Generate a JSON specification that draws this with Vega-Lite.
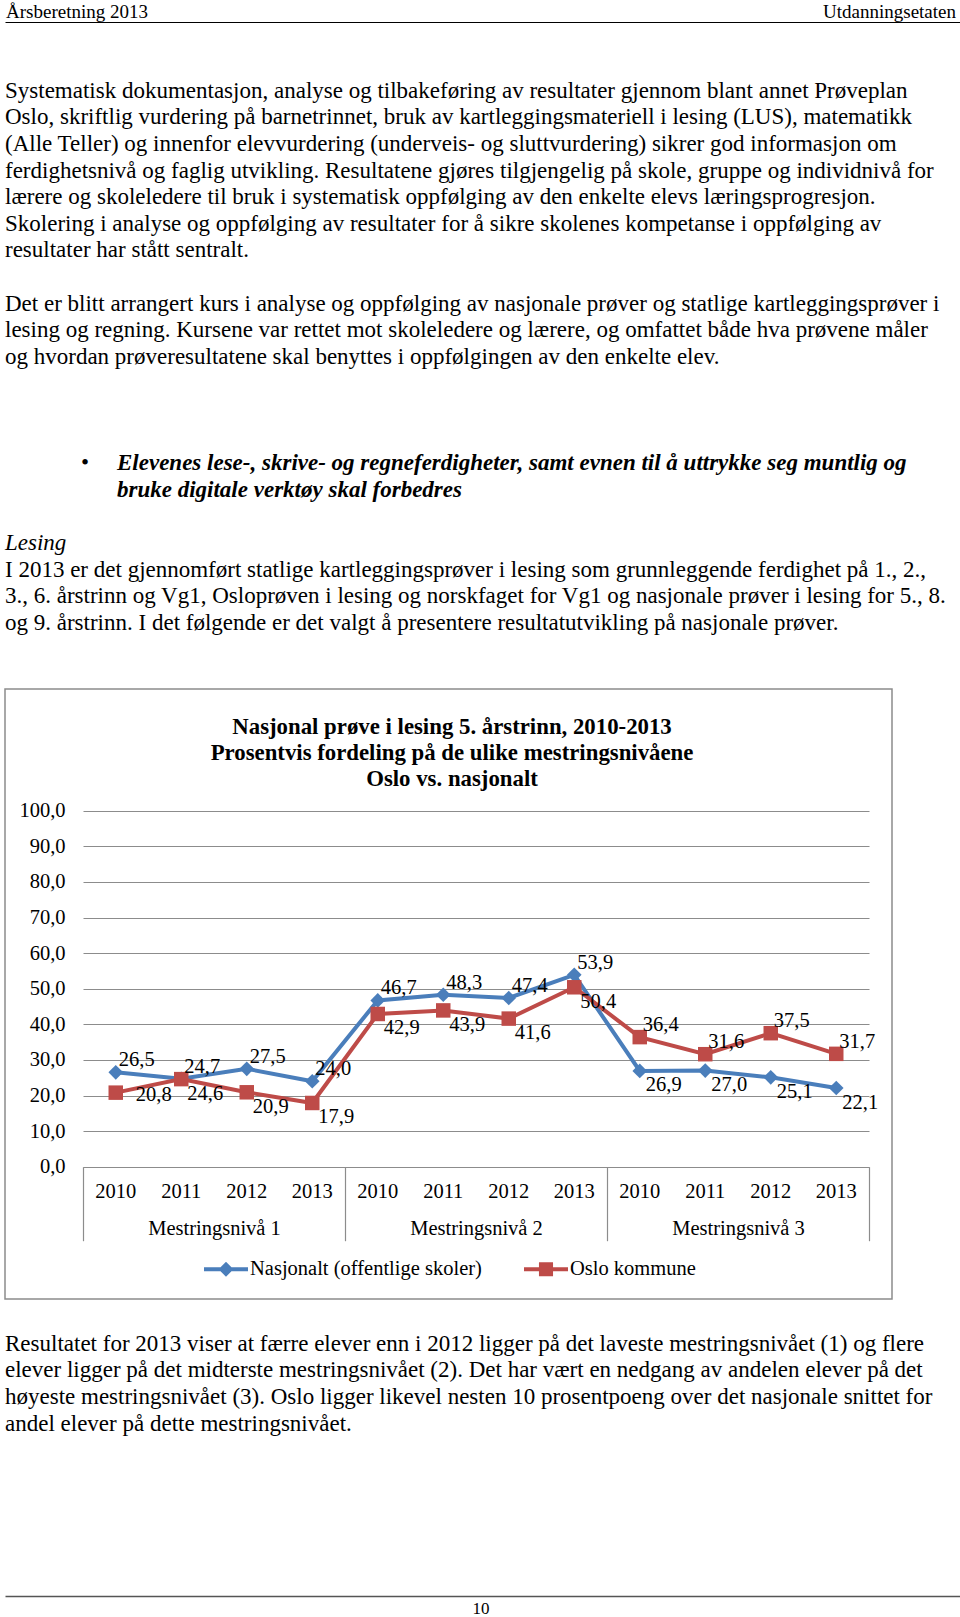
{
  "$schema": "https://vega.github.io/schema/vega-lite/v6.json",
  "padding": {"left": 4, "top": 0, "right": 0, "bottom": 0},
  "spacing": 0,
  "bounds": "flush",
  "background": "white",
  "config": {
    "view": {"stroke": null},
    "font": "Liberation Serif",
    "text": {"font": "Liberation Serif", "color": "#000"},
    "axis": {"labelFont": "Liberation Serif", "labelColor": "#000", "title": null},
    "locale": {"number": {"decimal": ",", "thousands": " ", "grouping": [3], "currency": ["", " kr"]}}
  },
  "vconcat": [
    {
      "width": 956,
      "height": 22,
      "data": {"values": [
        {"side": "venstre", "tekst": "Årsberetning 2013"},
        {"side": "høyre", "tekst": "Utdanningsetaten"}
      ]},
      "encoding": {
        "x": {"field": "side", "type": "nominal", "sort": null,
          "scale": {"type": "point", "domain": ["venstre", "høyre"], "padding": 0.00105},
          "axis": {"orient": "bottom", "labels": false, "ticks": false, "domain": true, "domainColor": "#000", "domainWidth": 1.2, "grid": false, "title": null}},
        "text": {"field": "tekst"}
      },
      "layer": [
        {"transform": [{"filter": "datum.side == 'venstre'"}],
         "mark": {"type": "text", "align": "left", "baseline": "middle", "fontSize": 19, "dy": 1}},
        {"transform": [{"filter": "datum.side == 'høyre'"}],
         "mark": {"type": "text", "align": "right", "baseline": "middle", "fontSize": 19, "dy": 1, "dx": -4}}
      ]
    },
    {
      "width": 956,
      "height": 667,
      "data": {"values": [
        {"linje": 0, "innrykk": "venstre", "stil": "normal", "tekst": "Systematisk dokumentasjon, analyse og tilbakeføring av resultater gjennom blant annet Prøveplan"},
        {"linje": 1, "innrykk": "venstre", "stil": "normal", "tekst": "Oslo, skriftlig vurdering på barnetrinnet, bruk av kartleggingsmateriell i lesing (LUS), matematikk"},
        {"linje": 2, "innrykk": "venstre", "stil": "normal", "tekst": "(Alle Teller) og innenfor elevvurdering (underveis- og sluttvurdering) sikrer god informasjon om"},
        {"linje": 3, "innrykk": "venstre", "stil": "normal", "tekst": "ferdighetsnivå og faglig utvikling. Resultatene gjøres tilgjengelig på skole, gruppe og individnivå for"},
        {"linje": 4, "innrykk": "venstre", "stil": "normal", "tekst": "lærere og skoleledere til bruk i systematisk oppfølging av den enkelte elevs læringsprogresjon."},
        {"linje": 5, "innrykk": "venstre", "stil": "normal", "tekst": "Skolering i analyse og oppfølging av resultater for å sikre skolenes kompetanse i oppfølging av"},
        {"linje": 6, "innrykk": "venstre", "stil": "normal", "tekst": "resultater har stått sentralt."},
        {"linje": 8, "innrykk": "venstre", "stil": "normal", "tekst": "Det er blitt arrangert kurs i analyse og oppfølging av nasjonale prøver og statlige kartleggingsprøver i"},
        {"linje": 9, "innrykk": "venstre", "stil": "normal", "tekst": "lesing og regning.  Kursene var rettet mot skoleledere og lærere, og omfattet både hva prøvene måler"},
        {"linje": 10, "innrykk": "venstre", "stil": "normal", "tekst": "og hvordan prøveresultatene skal benyttes i oppfølgingen av den enkelte elev."},
        {"linje": 14, "innrykk": "punkt", "stil": "kule", "tekst": "•"},
        {"linje": 14, "innrykk": "punkt", "stil": "fet kursiv", "tekst": "Elevenes lese-, skrive- og regneferdigheter, samt evnen til å uttrykke seg muntlig og"},
        {"linje": 15, "innrykk": "punkt", "stil": "fet kursiv", "tekst": "bruke digitale verktøy skal forbedres"},
        {"linje": 17, "innrykk": "venstre", "stil": "kursiv", "tekst": "Lesing"},
        {"linje": 18, "innrykk": "venstre", "stil": "normal", "tekst": "I 2013 er det gjennomført statlige kartleggingsprøver i lesing som grunnleggende ferdighet på 1., 2.,"},
        {"linje": 19, "innrykk": "venstre", "stil": "normal", "tekst": "3., 6. årstrinn og Vg1, Osloprøven i lesing og norskfaget for Vg1 og nasjonale prøver i lesing for 5., 8."},
        {"linje": 20, "innrykk": "venstre", "stil": "normal", "tekst": "og 9. årstrinn.  I det følgende er det valgt å presentere resultatutvikling på nasjonale prøver."}
      ]},
      "encoding": {
        "x": {"field": "innrykk", "type": "nominal", "scale": {"type": "point", "domain": ["venstre", "punkt"], "range": [0, 112], "padding": 0}, "axis": null},
        "y": {"field": "linje", "type": "quantitative", "scale": {"domain": [0, 20], "range": [68.7, 600.7]}, "axis": null},
        "text": {"field": "tekst"}
      },
      "layer": [
        {"transform": [{"filter": "datum.stil == 'normal'"}],
         "mark": {"type": "text", "align": "left", "baseline": "middle", "fontSize": 23}},
        {"transform": [{"filter": "datum.stil == 'kursiv'"}],
         "mark": {"type": "text", "align": "left", "baseline": "middle", "fontSize": 23, "fontStyle": "italic"}},
        {"transform": [{"filter": "datum.stil == 'fet kursiv'"}],
         "mark": {"type": "text", "align": "left", "baseline": "middle", "fontSize": 23, "fontStyle": "italic", "fontWeight": "bold"}},
        {"transform": [{"filter": "datum.stil == 'kule'"}],
         "mark": {"type": "text", "align": "right", "baseline": "middle", "fontSize": 23, "dx": -28}}
      ]
    },
    {
      "width": 887,
      "height": 610,
      "view": {"stroke": "#8c8c8c", "strokeWidth": 1.5},
      "title": {
        "text": ["Nasjonal prøve i lesing 5. årstrinn, 2010-2013", "Prosentvis fordeling på de ulike mestringsnivåene", "Oslo vs. nasjonalt"],
        "anchor": "middle", "frame": "group", "baseline": "top", "offset": -102.3, "dx": 3.5,
        "font": "Liberation Serif", "fontSize": 22.8, "fontWeight": "bold", "color": "#000", "lineHeight": 26.3
      },
      "data": {"values": [
        {"serie": "Nasjonalt (offentlige skoler)", "niva": "Mestringsnivå 1", "kategori": "Mestringsnivå 1 2010", "verdi": 26.5},
        {"serie": "Nasjonalt (offentlige skoler)", "niva": "Mestringsnivå 1", "kategori": "Mestringsnivå 1 2011", "verdi": 24.7},
        {"serie": "Nasjonalt (offentlige skoler)", "niva": "Mestringsnivå 1", "kategori": "Mestringsnivå 1 2012", "verdi": 27.5},
        {"serie": "Nasjonalt (offentlige skoler)", "niva": "Mestringsnivå 1", "kategori": "Mestringsnivå 1 2013", "verdi": 24.0},
        {"serie": "Nasjonalt (offentlige skoler)", "niva": "Mestringsnivå 2", "kategori": "Mestringsnivå 2 2010", "verdi": 46.7},
        {"serie": "Nasjonalt (offentlige skoler)", "niva": "Mestringsnivå 2", "kategori": "Mestringsnivå 2 2011", "verdi": 48.3},
        {"serie": "Nasjonalt (offentlige skoler)", "niva": "Mestringsnivå 2", "kategori": "Mestringsnivå 2 2012", "verdi": 47.4},
        {"serie": "Nasjonalt (offentlige skoler)", "niva": "Mestringsnivå 2", "kategori": "Mestringsnivå 2 2013", "verdi": 53.9},
        {"serie": "Nasjonalt (offentlige skoler)", "niva": "Mestringsnivå 3", "kategori": "Mestringsnivå 3 2010", "verdi": 26.9},
        {"serie": "Nasjonalt (offentlige skoler)", "niva": "Mestringsnivå 3", "kategori": "Mestringsnivå 3 2011", "verdi": 27.0},
        {"serie": "Nasjonalt (offentlige skoler)", "niva": "Mestringsnivå 3", "kategori": "Mestringsnivå 3 2012", "verdi": 25.1},
        {"serie": "Nasjonalt (offentlige skoler)", "niva": "Mestringsnivå 3", "kategori": "Mestringsnivå 3 2013", "verdi": 22.1},
        {"serie": "Oslo kommune", "niva": "Mestringsnivå 1", "kategori": "Mestringsnivå 1 2010", "verdi": 20.8},
        {"serie": "Oslo kommune", "niva": "Mestringsnivå 1", "kategori": "Mestringsnivå 1 2011", "verdi": 24.6},
        {"serie": "Oslo kommune", "niva": "Mestringsnivå 1", "kategori": "Mestringsnivå 1 2012", "verdi": 20.9},
        {"serie": "Oslo kommune", "niva": "Mestringsnivå 1", "kategori": "Mestringsnivå 1 2013", "verdi": 17.9},
        {"serie": "Oslo kommune", "niva": "Mestringsnivå 2", "kategori": "Mestringsnivå 2 2010", "verdi": 42.9},
        {"serie": "Oslo kommune", "niva": "Mestringsnivå 2", "kategori": "Mestringsnivå 2 2011", "verdi": 43.9},
        {"serie": "Oslo kommune", "niva": "Mestringsnivå 2", "kategori": "Mestringsnivå 2 2012", "verdi": 41.6},
        {"serie": "Oslo kommune", "niva": "Mestringsnivå 2", "kategori": "Mestringsnivå 2 2013", "verdi": 50.4},
        {"serie": "Oslo kommune", "niva": "Mestringsnivå 3", "kategori": "Mestringsnivå 3 2010", "verdi": 36.4},
        {"serie": "Oslo kommune", "niva": "Mestringsnivå 3", "kategori": "Mestringsnivå 3 2011", "verdi": 31.6},
        {"serie": "Oslo kommune", "niva": "Mestringsnivå 3", "kategori": "Mestringsnivå 3 2012", "verdi": 37.5},
        {"serie": "Oslo kommune", "niva": "Mestringsnivå 3", "kategori": "Mestringsnivå 3 2013", "verdi": 31.7}
      ]},
      "layer": [
        {
          "encoding": {
            "x": {"field": "kategori", "type": "nominal", "sort": null,
              "scale": {"type": "band", "range": [78, 864], "paddingInner": 0, "paddingOuter": 0},
              "axis": {"orient": "bottom", "offset": -132.3, "ticks": false, "tickSize": 0, "domain": false, "grid": false,
                "labelExpr": "split(datum.label, ' ')[2]", "labelAngle": 0, "labelPadding": 14.5, "labelFontSize": 20.5, "labelOverlap": false, "title": null}},
            "y": {"field": "verdi", "type": "quantitative",
              "scale": {"domain": [0, 100], "range": [477.7, 121.7]},
              "axis": {"orient": "left", "values": [0, 10, 20, 30, 40, 50, 60, 70, 80, 90, 100], "format": ".1f",
                "ticks": false, "tickSize": 0, "domain": false, "grid": true, "gridColor": "#8c8c8c", "gridWidth": 1.2,
                "labelPadding": -60, "labelFontSize": 20.5, "title": null}}
          },
          "layer": [
            {
              "transform": [{"filter": "datum.serie == 'Nasjonalt (offentlige skoler)'"}],
              "mark": {"type": "line", "strokeWidth": 4, "color": "#4A7EBB"}
            },
            {
              "transform": [{"filter": "datum.serie == 'Nasjonalt (offentlige skoler)'"}],
              "mark": {"type": "point", "shape": "diamond", "filled": true, "color": "#4A7EBB", "opacity": 1, "strokeWidth": 0, "size": 215}
            },
            {
              "transform": [{"filter": "datum.serie == 'Oslo kommune'"}],
              "mark": {"type": "line", "strokeWidth": 4, "color": "#BE4B48"}
            },
            {
              "transform": [{"filter": "datum.serie == 'Oslo kommune'"}],
              "mark": {"type": "point", "shape": "square", "filled": true, "color": "#BE4B48", "opacity": 1, "strokeWidth": 0, "size": 210}
            },
            {
              "mark": {"type": "point", "filled": true, "opacity": 0, "size": 10},
              "encoding": {
                "color": {"field": "serie", "type": "nominal", "sort": null,
                  "scale": {"domain": ["Nasjonalt (offentlige skoler)", "Oslo kommune"], "range": ["#4A7EBB", "#BE4B48"]},
                  "legend": {"orient": "none", "legendX": 199, "legendY": 1247, "direction": "horizontal", "title": null,
                    "labelFont": "Liberation Serif", "labelFontSize": 20.5, "labelColor": "#000", "labelLimit": 0, "symbolSize": 1936,
                    "labelOffset": 2, "columnPadding": 42, "padding": 0, "symbolStrokeWidth": 0, "symbolOpacity": 1}},
                "shape": {"field": "serie", "type": "nominal", "sort": null,
                  "scale": {"domain": ["Nasjonalt (offentlige skoler)", "Oslo kommune"],
                    "range": ["M-1,-0.09H1V0.09H-1Z M0,-0.34L0.34,0L0,0.34L-0.34,0Z", "M-1,-0.09H1V0.09H-1Z M-0.32,-0.32H0.32V0.32H-0.32Z"]},
                  "legend": {"orient": "none", "legendX": 199, "legendY": 1247, "direction": "horizontal", "title": null,
                    "labelFont": "Liberation Serif", "labelFontSize": 20.5, "labelColor": "#000", "labelLimit": 0, "symbolSize": 1936,
                    "labelOffset": 2, "columnPadding": 42, "padding": 0, "symbolStrokeWidth": 0, "symbolOpacity": 1}}
              }
            },
            {
              "transform": [{"filter": "(datum.serie == 'Nasjonalt (offentlige skoler)' && datum.niva != 'Mestringsnivå 3') || (datum.serie == 'Oslo kommune' && datum.niva == 'Mestringsnivå 3')"}],
              "mark": {"type": "text", "align": "left", "baseline": "middle", "dx": 3, "dy": -12, "fontSize": 20.5, "font": "Liberation Serif"},
              "encoding": {"text": {"field": "verdi", "type": "quantitative", "format": ".1f"}}
            },
            {
              "transform": [{"filter": "((datum.serie == 'Oslo kommune' && datum.niva != 'Mestringsnivå 3') || (datum.serie == 'Nasjonalt (offentlige skoler)' && datum.niva == 'Mestringsnivå 3')) && !(datum.serie == 'Oslo kommune' && datum.kategori == 'Mestringsnivå 1 2010')"}],
              "mark": {"type": "text", "align": "left", "baseline": "middle", "dx": 6, "dy": 14.5, "fontSize": 20.5, "font": "Liberation Serif"},
              "encoding": {"text": {"field": "verdi", "type": "quantitative", "format": ".1f"}}
            },
            {
              "transform": [{"filter": "datum.serie == 'Oslo kommune' && datum.kategori == 'Mestringsnivå 1 2010'"}],
              "mark": {"type": "text", "align": "left", "baseline": "middle", "dx": 20, "dy": 2, "fontSize": 20.5, "font": "Liberation Serif"},
              "encoding": {"text": {"field": "verdi", "type": "quantitative", "format": ".1f"}}
            }
          ]
        },
        {
          "mark": {"type": "tick", "opacity": 0},
          "encoding": {
            "x": {"field": "niva", "type": "nominal", "sort": null,
              "scale": {"type": "band", "range": [78, 864], "paddingInner": 0, "paddingOuter": 0},
              "axis": {"orient": "bottom", "offset": -132.3, "ticks": true, "tickBand": "extent", "tickSize": 74,
                "tickColor": "#8c8c8c", "tickWidth": 1.2, "domain": false, "grid": false, "labelAngle": 0,
                "labelPadding": -22.3, "labelFontSize": 20.5, "labelOverlap": false, "title": null}}
          }
        }
      ],
      "resolve": {"scale": {"x": "independent"}}
    },
    {
      "width": 956,
      "height": 297,
      "data": {"values": [
        {"linje": 0, "innrykk": "venstre", "tekst": "Resultatet for 2013 viser at færre elever enn i 2012 ligger på det laveste mestringsnivået (1) og flere"},
        {"linje": 1, "innrykk": "venstre", "tekst": "elever ligger på det midterste mestringsnivået (2). Det har vært en nedgang av andelen elever på det"},
        {"linje": 2, "innrykk": "venstre", "tekst": "høyeste mestringsnivået (3). Oslo ligger likevel nesten 10 prosentpoeng over det nasjonale snittet for"},
        {"linje": 3, "innrykk": "venstre", "tekst": "andel elever på dette mestringsnivået."}
      ]},
      "mark": {"type": "text", "align": "left", "baseline": "middle", "fontSize": 23},
      "encoding": {
        "x": {"field": "innrykk", "type": "nominal", "scale": {"type": "point", "domain": ["venstre", "punkt"], "range": [0, 112], "padding": 0}, "axis": null},
        "y": {"field": "linje", "type": "quantitative", "scale": {"domain": [0, 3], "range": [44.5, 125]}, "axis": null},
        "text": {"field": "tekst"}
      }
    },
    {
      "width": 956,
      "height": 21,
      "data": {"values": [{"side": "midt", "tekst": "10"}]},
      "mark": {"type": "text", "align": "center", "baseline": "middle", "fontSize": 17, "dy": 2, "dx": -2},
      "encoding": {
        "x": {"field": "side", "type": "nominal",
          "scale": {"type": "point", "domain": ["venstre", "midt", "høyre"], "padding": 0},
          "axis": {"orient": "top", "labels": false, "ticks": false, "domain": true, "domainColor": "#555", "domainWidth": 1.5, "grid": false, "title": null}},
        "text": {"field": "tekst"}
      }
    }
  ]
}
